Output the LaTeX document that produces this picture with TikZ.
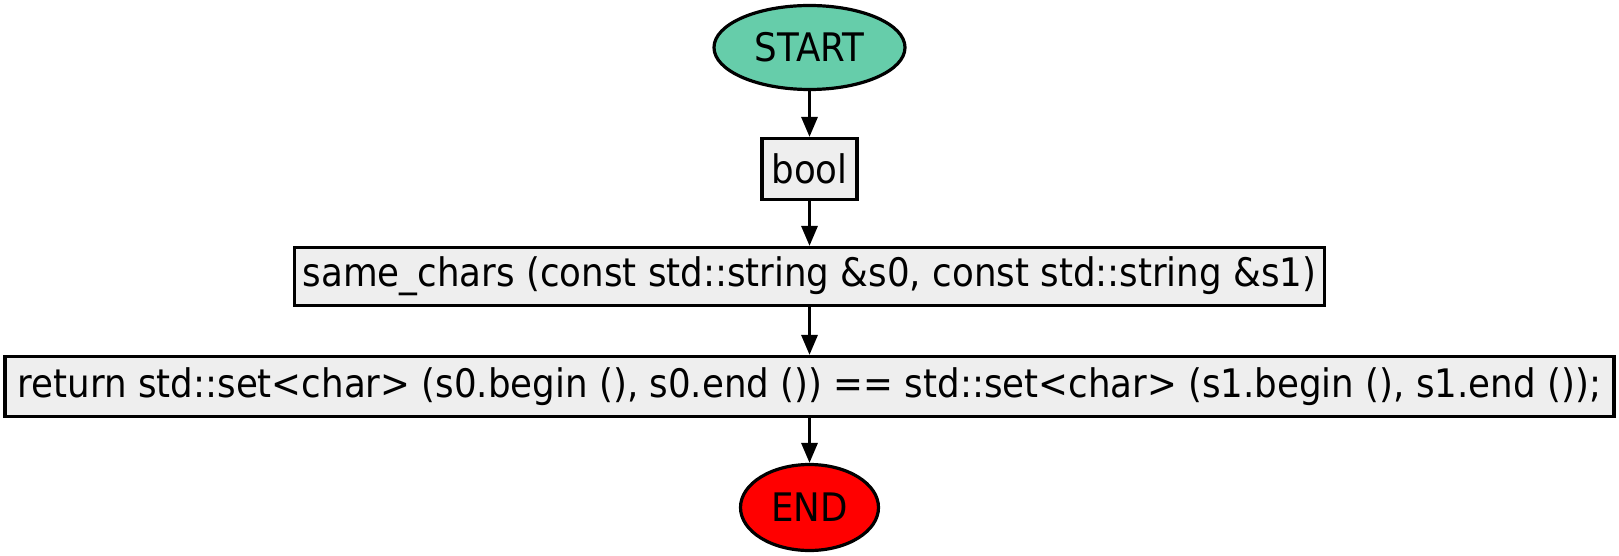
\documentclass[tikz,border=0pt]{standalone}
\usepackage{fontspec}
\setmainfont{DejaVu Sans}[FakeStretch=0.907]
\usetikzlibrary{shapes.geometric,arrows.meta}
\definecolor{startfill}{HTML}{66CDAA}
\definecolor{boxfill}{HTML}{EEEEEE}
\definecolor{endfill}{HTML}{FF0000}
\begin{document}
\begin{tikzpicture}[x=1pt,y=-1pt,
  every node/.style={font=\fontsize{39.3}{44}\selectfont, inner sep=0pt, line width=3.2pt, draw=black},
  terminal/.style={ellipse},
  stepbox/.style={rectangle, fill=boxfill},
  flow/.style={line width=3.2pt, -{Triangle[length=20pt,width=16pt]}}]
\useasboundingbox (0,0) rectangle (1619,556);
\node[terminal, fill=startfill, minimum width=191pt, minimum height=84pt] (start) at (809.5,47.5) {START};
\node[stepbox, minimum width=95pt, minimum height=61pt] (type) at (809.5,169) {bool};
\node[stepbox, minimum width=1030pt, minimum height=58pt] (sig) at (809.5,276.5) {same\_chars (const std::string \&s0, const std::string \&s1)};
\node[stepbox, minimum width=1609pt, minimum height=60pt] (ret) at (809.5,386.5) {return std::set<char> (s0.begin (), s0.end ()) == std::set<char> (s1.begin (), s1.end ());};
\node[terminal, fill=endfill, minimum width=138pt, minimum height=86pt] (end) at (809.5,507.5) {END};
\draw[flow] (start) -- (type);
\draw[flow] (type) -- (sig);
\draw[flow] (sig) -- (ret);
\draw[flow] (ret) -- (end);
\end{tikzpicture}
\end{document}
